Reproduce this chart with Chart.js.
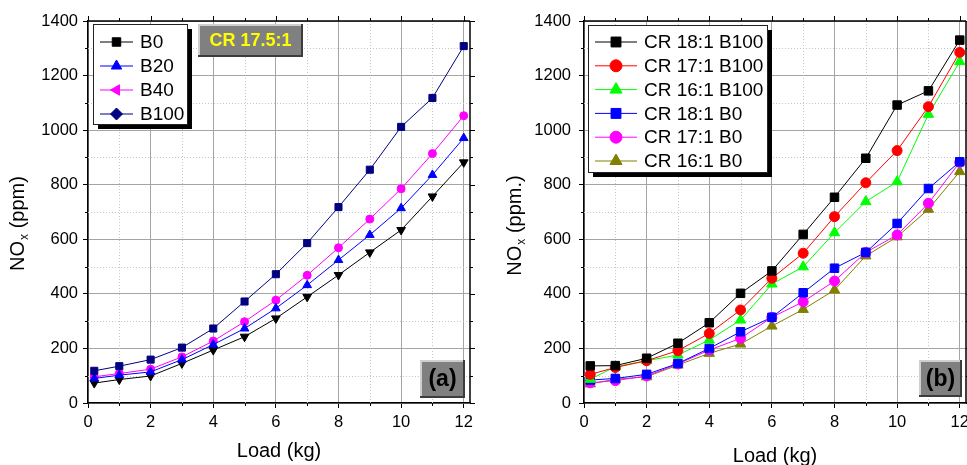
<!DOCTYPE html>
<html>
<head>
<meta charset="utf-8">
<title>NOx vs Load</title>
<script src="https://cdn.jsdelivr.net/npm/chart.js@4.4.0/dist/chart.umd.min.js"></script>
<style>
  body { margin: 0; background: #fff; width: 967px; height: 465px; overflow: hidden; position: relative; }
  canvas { position: absolute; top: 0; }
  #chartA { left: 0; }
  #chartB { left: 490px; }
</style>
</head>
<body>
<canvas id="chartA" width="480" height="465"></canvas>
<canvas id="chartB" width="487" height="465"></canvas>
<script>
// ---- data ----
const loads = [0.2, 1, 2, 3, 4, 5, 6, 7, 8, 9, 10, 11, 12];

const xTickValues = [0, 2, 4, 6, 8, 10, 12];
const xMinorValues = [1, 3, 5, 7, 9, 11];
const yTickValues = [0, 200, 400, 600, 800, 1000, 1200, 1400];
const yMinorValues = [100, 300, 500, 700, 900, 1100, 1300];

// (a) CR 17.5:1
const labelsA = ['B0', 'B20', 'B40', 'B100'];
const noxB0 = [118, 135, 159, 203, 273, 372, 472, 586, 718, 855, 1012, 1118, 1308];
const noxB20 = [90, 102, 114, 159, 214, 273, 347, 432, 524, 616, 714, 836, 971];
const noxB40 = [96, 108, 124, 169, 227, 298, 377, 468, 569, 674, 785, 914, 1053];
const noxB100 = [73, 86, 99, 145, 194, 243, 310, 389, 469, 552, 634, 757, 882];

// (b) compression ratios
const labelsB = ['CR 18:1 B100', 'CR 17:1 B100', 'CR 16:1 B100', 'CR 18:1 B0', 'CR 17:1 B0', 'CR 16:1 B0'];
const cr18B100 = [136, 137, 164, 219, 294, 402, 484, 618, 754, 897, 1092, 1144, 1330];
const cr17B100 = [105, 130, 155, 192, 255, 341, 457, 549, 683, 807, 925, 1086, 1285];
const cr16B100 = [87, 133, 155, 176, 231, 304, 436, 499, 624, 738, 811, 1058, 1251];
const cr18B0 = [84, 90, 105, 145, 200, 261, 314, 404, 494, 552, 658, 786, 884];
const cr17B0 = [74, 82, 99, 143, 194, 237, 314, 371, 447, 552, 616, 732, 882];
const cr16B0 = [70, 87, 96, 139, 182, 216, 282, 343, 414, 539, 609, 710, 848];

const FONT = "'Liberation Sans', Arial, sans-serif";

function toPoints(values) {
  return loads.map((x, i) => ({ x: x, y: values[i] }));
}

function series(label, values, color, style, radius, rotation) {
  return {
    label: label,
    data: toPoints(values),
    borderColor: color,
    backgroundColor: color,
    borderWidth: 1,
    tension: 0,
    pointStyle: style,
    pointRadius: radius,
    pointRotation: rotation || 0,
    pointBorderWidth: 1,
    pointBorderColor: color,
    pointBackgroundColor: color
  };
}

function strokeLine(ctx, x1, y1, x2, y2) {
  ctx.beginPath();
  ctx.moveTo(x1, y1);
  ctx.lineTo(x2, y2);
  ctx.stroke();
}

function bevelBox(ctx, x, y, w, h) {
  ctx.fillStyle = '#808080';
  ctx.fillRect(x, y, w, h);
  ctx.fillStyle = '#cfcfcf';
  ctx.fillRect(x, y, w, 2);
  ctx.fillRect(x, y, 2, h);
  ctx.fillStyle = '#3c3c3c';
  ctx.fillRect(x, y + h - 2, w, 2);
  ctx.fillRect(x + w - 2, y, 2, h);
}

// minor grid, mirrored ticks, frame, legend, label boxes, axis titles
const framePlugin = {
  id: 'frame',
  beforeDatasetsDraw(chart) {
    const { ctx, chartArea: a, scales: { x, y } } = chart;
    ctx.save();
    ctx.lineWidth = 1;
    ctx.strokeStyle = '#c6c6c6';
    ctx.setLineDash([1, 2]);
    xMinorValues.forEach(v => {
      const px = Math.round(x.getPixelForValue(v)) + 0.5;
      strokeLine(ctx, px, a.top, px, a.bottom);
    });
    yMinorValues.forEach(v => {
      const py = Math.round(y.getPixelForValue(v)) + 0.5;
      strokeLine(ctx, a.left, py, a.right, py);
    });
    ctx.setLineDash([]);

    ctx.strokeStyle = '#000';
    ctx.lineWidth = 1;
    // minor ticks on bottom/left, all ticks mirrored on top/right
    xMinorValues.forEach(v => {
      const px = Math.round(x.getPixelForValue(v)) + 0.5;
      strokeLine(ctx, px, a.bottom, px, a.bottom + 3);
      strokeLine(ctx, px, a.top, px, a.top - 3);
    });
    xTickValues.forEach(v => {
      const px = Math.round(x.getPixelForValue(v)) + 0.5;
      strokeLine(ctx, px, a.top, px, a.top - 5);
    });
    yMinorValues.forEach(v => {
      const py = Math.round(y.getPixelForValue(v)) + 0.5;
      strokeLine(ctx, a.left, py, a.left - 3, py);
      strokeLine(ctx, a.right, py, a.right + 3, py);
    });
    yTickValues.forEach(v => {
      const py = Math.round(y.getPixelForValue(v)) + 0.5;
      strokeLine(ctx, a.right, py, a.right + 5, py);
    });
    ctx.lineWidth = 1.5;
    strokeLine(ctx, a.left, a.top, a.right, a.top);
    strokeLine(ctx, a.right, a.top, a.right, a.bottom);
    ctx.restore();
  },
  afterDatasetsDraw(chart, args, opts) {
    const { ctx, chartArea: a } = chart;
    const lg = opts.legend;
    ctx.save();

    // legend with drop shadow
    const lx = a.left + lg.dx, ly = a.top + lg.dy;
    ctx.fillStyle = '#000';
    ctx.fillRect(lx + 5, ly + 5, lg.w, lg.h);
    ctx.fillStyle = '#fff';
    ctx.fillRect(lx, ly, lg.w, lg.h);
    ctx.strokeStyle = '#222';
    ctx.lineWidth = 1;
    ctx.strokeRect(lx + 0.5, ly + 0.5, lg.w, lg.h);
    chart.data.datasets.forEach((ds, i) => {
      const st = lg.styles ? lg.styles[i] : {
        color: ds.borderColor, style: ds.pointStyle, rot: ds.pointRotation, r: ds.pointRadius + 1
      };
      const cy = ly + lg.first + i * lg.rowH;
      ctx.strokeStyle = st.color;
      ctx.lineWidth = 1;
      strokeLine(ctx, lx + lg.line0, cy, lx + lg.line1, cy);
      ctx.fillStyle = st.color;
      Chart.helpers.drawPoint(ctx, {
        pointStyle: st.style, radius: st.r, rotation: st.rot || 0, borderWidth: 1
      }, lx + (lg.line0 + lg.line1) / 2, cy);
      ctx.fillStyle = '#000';
      ctx.font = '19px ' + FONT;
      ctx.textAlign = 'left';
      ctx.textBaseline = 'middle';
      ctx.fillText(ds.label, lx + lg.textX, cy + 1);
    });

    // grey label boxes
    (opts.boxes || []).forEach(b => {
      const bx = b.fromRight ? a.right + b.dx : a.left + b.dx;
      const by = b.fromBottom ? a.bottom + b.dy : a.top + b.dy;
      bevelBox(ctx, bx, by, b.w, b.h);
      ctx.fillStyle = b.color;
      ctx.font = 'bold ' + b.size + 'px ' + FONT;
      ctx.textAlign = 'center';
      ctx.textBaseline = 'middle';
      ctx.fillText(b.text, bx + b.w / 2, by + b.h / 2 + 1);
    });

    // x title
    ctx.fillStyle = '#000';
    ctx.font = '20px ' + FONT;
    ctx.textAlign = 'center';
    ctx.textBaseline = 'middle';
    ctx.fillText('Load (kg)', (a.left + a.right) / 2, opts.xTitleY);

    // y title with subscript x
    ctx.translate(opts.yTitleX, opts.yTitleY);
    ctx.rotate(-Math.PI / 2);
    ctx.textAlign = 'left';
    ctx.textBaseline = 'middle';
    const main = '20px ' + FONT, sub = '12px ' + FONT;
    ctx.font = main;
    const w1 = ctx.measureText('NO').width;
    const w3 = ctx.measureText(' ' + opts.yUnit).width;
    ctx.font = sub;
    const w2 = ctx.measureText('x').width;
    let sx = -(w1 + w2 + w3) / 2;
    ctx.font = main;
    ctx.fillText('NO', sx, 0);
    ctx.font = sub;
    ctx.fillText('x', sx + w1 + 1, 7);
    ctx.font = main;
    ctx.fillText(' ' + opts.yUnit, sx + w1 + w2 + 1, 0);
    ctx.restore();
  }
};

function makeChart(id, datasets, cfg) {
  return new Chart(document.getElementById(id), {
    type: 'line',
    data: { datasets: datasets },
    plugins: [framePlugin],
    options: {
      responsive: false,
      animation: false,
      layout: { padding: { top: 21, right: cfg.padRight, left: 0, bottom: 0 } },
      plugins: {
        legend: { display: false },
        tooltip: { enabled: false },
        frame: cfg.frame
      },
      scales: {
        x: {
          type: 'linear',
          min: 0,
          max: 12.2,
          afterBuildTicks: ax => { ax.ticks = xTickValues.map(v => ({ value: v })); },
          afterFit: ax => { ax.height = 62; },
          ticks: {
            color: '#000',
            font: { family: FONT, size: 16.5 },
            padding: 5,
            maxRotation: 0,
            callback: v => String(v)
          },
          grid: { color: '#a4a4a4', lineWidth: 1, tickColor: '#000', tickLength: 5 },
          border: { color: '#000', width: 1.5 }
        },
        y: {
          min: 0,
          max: 1400,
          afterBuildTicks: ax => { ax.ticks = yTickValues.map(v => ({ value: v })); },
          afterFit: ax => { ax.width = cfg.yWidth; },
          ticks: {
            color: '#000',
            font: { family: FONT, size: 16.5 },
            padding: cfg.yPad,
            callback: v => String(v)
          },
          grid: { color: '#a4a4a4', lineWidth: 1, tickColor: '#000', tickLength: 5 },
          border: { color: '#000', width: 1.5 }
        }
      }
    }
  });
}

// (a)
makeChart('chartA', [
  series(labelsA[0], noxB0, '#000080', 'rect', 5),
  series(labelsA[1], noxB20, '#0000ff', 'triangle', 5),
  series(labelsA[2], noxB40, '#ff00ff', 'circle', 4),
  series(labelsA[3], noxB100, '#000000', 'triangle', 5, 180)
], {
  padRight: 10,
  yWidth: 88,
  yPad: 5,
  frame: {
    xTitleY: 451,
    yTitleX: 18,
    yTitleY: 224,
    yUnit: '(ppm)',
    legend: {
      dx: 5, dy: 3, w: 94, h: 100, first: 18, rowH: 24, line0: 7, line1: 40, textX: 47,
      styles: [
        { color: '#000000', style: 'rect', r: 6 },
        { color: '#0000ff', style: 'triangle', r: 6 },
        { color: '#ff00ff', style: 'triangle', r: 6, rot: 270 },
        { color: '#000080', style: 'rectRot', r: 6 }
      ]
    },
    boxes: [
      { text: 'CR 17.5:1', color: '#ffff00', size: 18, dx: 110, dy: 3, w: 105, h: 33 },
      { text: '(a)', color: '#000', size: 23, fromRight: true, fromBottom: true, dx: -50, dy: -43, w: 45, h: 38 }
    ]
  }
});

// (b)
makeChart('chartB', [
  series(labelsB[0], cr18B100, '#000000', 'rect', 6),
  series(labelsB[1], cr17B100, '#ff0000', 'circle', 5),
  series(labelsB[2], cr16B100, '#00ff00', 'triangle', 6),
  series(labelsB[3], cr18B0, '#0000ff', 'rect', 6),
  series(labelsB[4], cr17B0, '#ff00ff', 'circle', 5),
  series(labelsB[5], cr16B0, '#808000', 'triangle', 6)
], {
  padRight: 11,
  yWidth: 94,
  yPad: 8,
  frame: {
    xTitleY: 456,
    yTitleX: 25,
    yTitleY: 226,
    yUnit: '(ppm.)',
    legend: { dx: 4, dy: 4, w: 179, h: 147, first: 17, rowH: 23.8, line0: 7, line1: 49, textX: 56 },
    boxes: [
      { text: '(b)', color: '#000', size: 23, fromRight: true, fromBottom: true, dx: -47, dy: -43, w: 43, h: 37 }
    ]
  }
});
</script>
</body>
</html>
